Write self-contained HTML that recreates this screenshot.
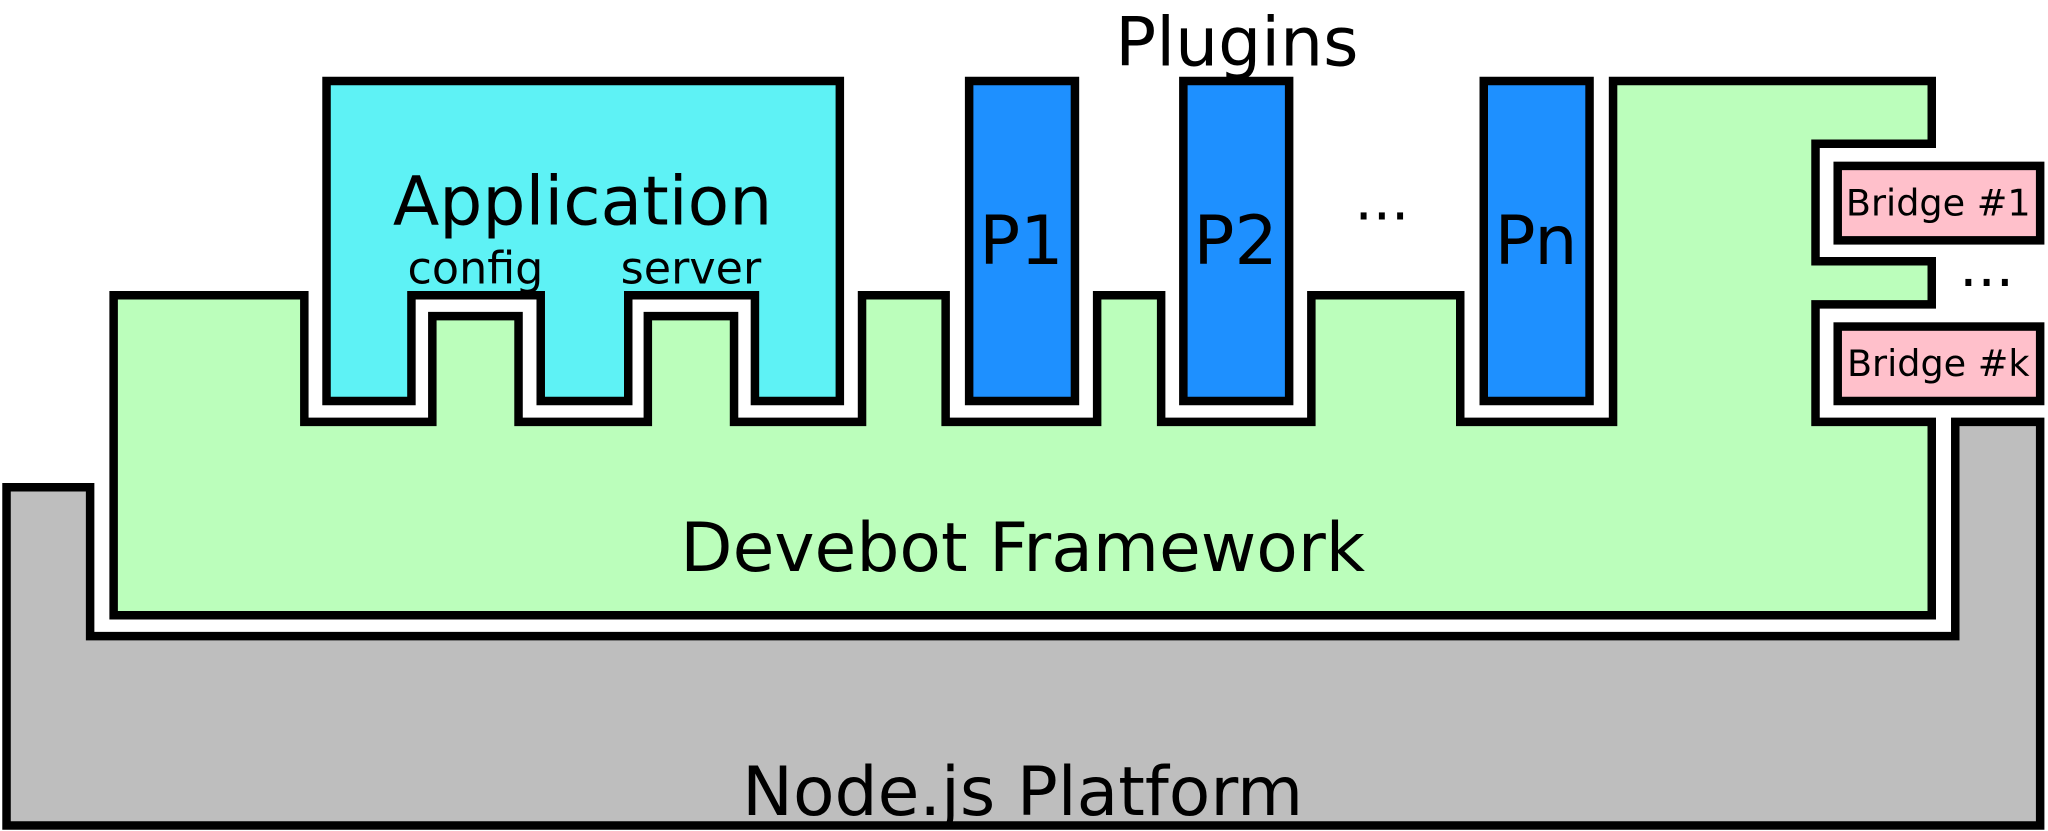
<!DOCTYPE html>
<html><head><style>html,body{margin:0;padding:0;background:#fff}svg{display:block}text{font-family:"DejaVu Sans","Liberation Sans",sans-serif;fill:#000}</style></head>
<body>
<svg width="2048" height="831" viewBox="0 0 1568 636.2" xmlns="http://www.w3.org/2000/svg">
<g stroke="#000" stroke-width="6.5" stroke-linejoin="miter">
<path fill="#bebebe" d="M5,373 H69 V487 H1497 V323 H1562 V632 H5 Z"/>
<path fill="#bbfebb" d="M87,226 H233 V323 H331 V242 H397 V323 H496 V242 H562 V323 H660 V226 H724 V323 H840 V226 H889 V323 H1004 V226 H1118 V323 H1235 V62 H1479 V110 H1390 V200 H1479 V233 H1390 V323 H1479 V471 H87 Z"/>
<path fill="#5ef2f5" d="M250,62 H643 V307 H578 V226 H481 V307 H414 V226 H315 V307 H250 Z"/>
<rect fill="#1e90ff" x="742" y="62" width="81" height="245"/>
<rect fill="#1e90ff" x="906" y="62" width="81" height="245"/>
<rect fill="#1e90ff" x="1136" y="62" width="81" height="245"/>
<rect fill="#ffc0cb" x="1407" y="127" width="155" height="57"/>
<rect fill="#ffc0cb" x="1407" y="250" width="155" height="57"/>
</g>
<g text-anchor="middle">
<text x="947" y="50" font-size="52">Plugins</text>
<text x="446" y="172" font-size="52">Application</text>
<text x="364" y="217" font-size="34">config</text>
<text x="529" y="217" font-size="34">server</text>
<text x="782" y="202" font-size="52">P1</text>
<text x="946" y="202" font-size="52">P2</text>
<text x="1176" y="202" font-size="52">Pn</text>
<text x="1058" y="168" font-size="44">...</text>
<text x="1521" y="219" font-size="44">...</text>
<text x="1484" y="165" font-size="28">Bridge #1</text>
<text x="1484" y="288" font-size="28">Bridge #k</text>
<text x="783" y="437" font-size="52">Devebot Framework</text>
<text x="783" y="624" font-size="52">Node.js Platform</text>
</g>
</svg>
</body></html>
